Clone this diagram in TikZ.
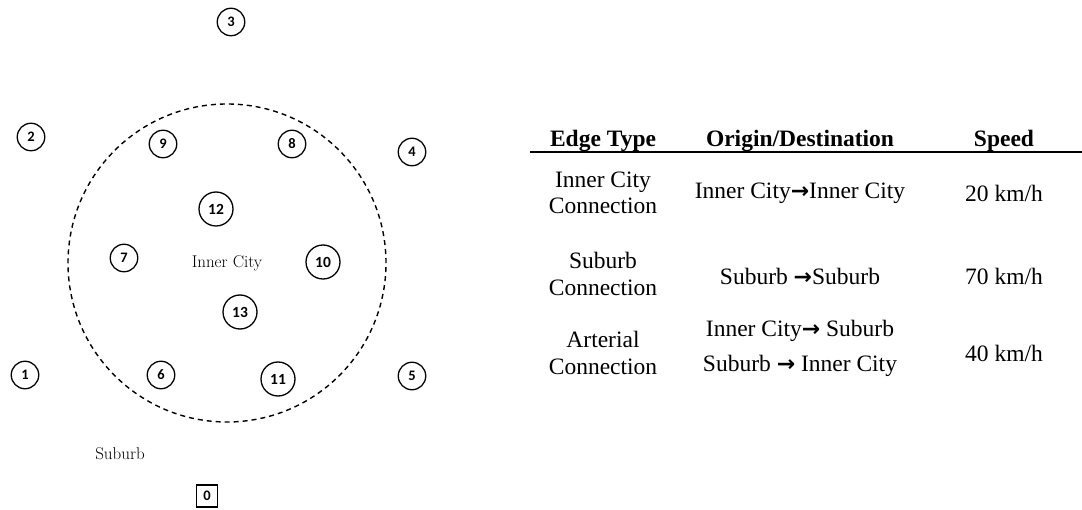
\documentclass[tikz,border=0pt]{standalone}
\usepackage{fontspec}
\newfontfamily\tabfont{Liberation Serif}
\newfontfamily\numfont{Carlito}
\newfontfamily\arrfont{DejaVu Sans}
\newcommand{\arr}{{\arrfont\bfseries\fontsize{22}{26.5}\selectfont →}}
\tikzset{
  snode/.style={draw, circle, line width=1.3pt, minimum size=27.5pt, inner sep=0pt,
    font=\numfont\bfseries\fontsize{14.5}{14.5}\selectfont},
  dnode/.style={draw, circle, line width=1.3pt, minimum size=34pt, inner sep=0pt,
    font=\numfont\bfseries\fontsize{15.5}{15.5}\selectfont},
  qnode/.style={draw, rectangle, line width=1.6pt, minimum width=21pt, minimum height=22pt, inner sep=0pt,
    font=\numfont\bfseries\fontsize{14.5}{14.5}\selectfont},
  lbl/.style={font=\fontsize{17}{20}\selectfont, inner sep=0pt},
  cell/.style={font=\tabfont\fontsize{23.5}{26.5}\selectfont, align=center, inner sep=0pt},
  head/.style={font=\tabfont\bfseries\fontsize{23.5}{26.5}\selectfont, align=center, inner sep=0pt},
  zone/.style={draw, line width=1.4pt, dash pattern=on 5pt off 4pt},
}
\begin{document}
\begin{tikzpicture}[x=1pt,y=-1pt]
\useasboundingbox (0,0) rectangle (1082,510);
% inner city boundary
\node[zone, circle, minimum size=318pt, inner sep=0pt] (zone) at (227,263) {};
% nodes
\node[snode] (n3) at (231,22) {3};
\node[snode] (n2) at (31,137) {2};
\node[snode] (n9) at (163,144) {9};
\node[snode] (n8) at (292,144) {8};
\node[snode] (n4) at (412,152) {4};
\node[dnode] (n12) at (216,209) {12};
\node[snode] (n7) at (124,258) {7};
\node[lbl] (inner) at (227,263) {Inner City};
\node[dnode] (n10) at (323,262) {10};
\node[dnode] (n13) at (240,312) {13};
\node[snode] (n1) at (25,375) {1};
\node[snode] (n6) at (161,375) {6};
\node[dnode] (n11) at (278,379) {11};
\node[snode] (n5) at (412,376) {5};
\node[lbl] (suburb) at (120,454) {Suburb};
\node[qnode] (n0) at (207,496) {0};
% table
\node[head] (h1) at (603,141) {Edge Type};
\node[head] (h2) at (800,141) {Origin/Destination};
\node[head] (h3) at (1004,141) {Speed};
\coordinate (ruleL) at (530,152);
\coordinate (ruleR) at (1082,152);
\draw[line width=2.7pt] (ruleL) -- (ruleR);
\node[cell] (r1a) at (603,193) {Inner City\\Connection};
\node[cell] (r1b) at (800,193) {Inner City\arr Inner City};
\node[cell] (r1c) at (1004,193) {20 km/h};
\node[cell] (r2a) at (603,274) {Suburb\\Connection};
\node[cell] (r2b) at (800,276) {Suburb \arr Suburb};
\node[cell] (r2c) at (1004,276) {70 km/h};
\node[cell] (r3a) at (603,353) {Arterial\\Connection};
\node[cell] (r3b) at (800,331) {Inner City\arr{} Suburb};
\node[cell] (r3c) at (800,366) {Suburb \arr{} Inner City};
\node[cell] (r3d) at (1004,353) {40 km/h};
\end{tikzpicture}
\end{document}
